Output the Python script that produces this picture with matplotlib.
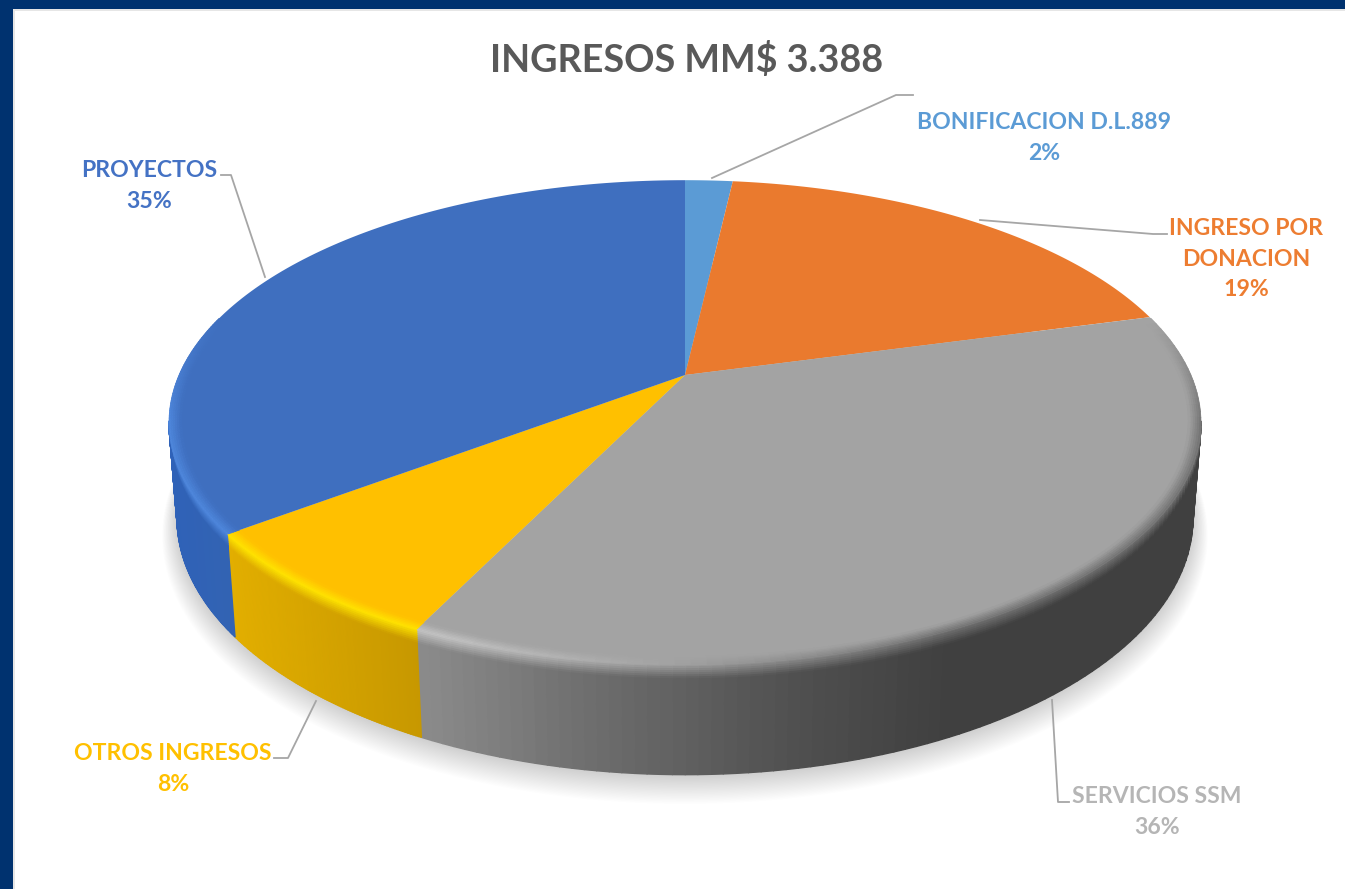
import numpy as np
import matplotlib
matplotlib.use('Agg')
import matplotlib.pyplot as plt
from matplotlib.collections import PolyCollection
from matplotlib.colors import to_rgb

# data, labels show them rounded
categories = ['BONIFICACION D.L.889', 'INGRESO POR\nDONACION', 'SERVICIOS SSM', 'OTROS INGRESOS', 'PROYECTOS']
values = [1.8, 19.0, 36.4, 7.5, 35.3]
title = 'INGRESOS MM$ 3.388'

# styles
top_colors = ['#5b9bd5', '#ea7a2e', '#a3a3a3', '#ffc000', '#3f6fbf']
text_colors = ['#5b9bd5', '#ed7d31', '#b5b5b5', '#ffc000', '#4472c4']
glow_colors = ['#5b9bd5', '#ea7a2e', '#c4c4c4', '#ffe400', '#4f88de']
side_x = [[0, 1345], [0, 1345], [418, 600, 800, 950, 1345], [228, 418], [165, 235]]
side_colors = [['#44749f', '#44749f'], ['#b05a20', '#b05a20'],
               ['#8c8c8c', '#6d6d6d', '#505050', '#404040', '#404040'],
               ['#e2ae00', '#c79800'], ['#2f62b8', '#3363b2']]
label_xy = [(1044, 138), (1246, 259), (1157, 812), (173, 769), (149, 186)]
leader_xy = [[(712, 178), (896, 95), (913, 95)], [(980, 220), (1153, 234), (1167, 234)],
             [(1052, 700), (1058, 802), (1069, 802)], [(316, 701), (288, 758), (274, 758)],
             [(265, 277), (231, 175), (221, 175)]]

# pie geometry in pixels, perspective projection of a circle
cx, cy = 685, 375
a, b, k = 506, 233, 0.196
depth = 93


def project(theta, scale=1.0, dy=0.0):
    u = np.sin(theta) * scale
    v = np.cos(theta) * scale
    d = 1 + k * v
    return np.column_stack([cx + a * u / d, cy + (dy - b * v) / d])


def mix(c1, c2, f):
    return tuple(np.array(to_rgb(c1)) * (1 - f) + np.array(to_rgb(c2)) * f)


fig = plt.figure(figsize=(13.45, 8.89), dpi=100)
ax = fig.add_axes([0, 0, 1, 1])
ax.set_xlim(0, 1345)
ax.set_ylim(889, 0)
ax.axis('off')

# frame
ax.add_patch(plt.Rectangle((0, 0), 1345, 889, color='white', lw=0, zorder=0))
ax.add_patch(plt.Rectangle((13, 9), 1332, 2, color='#e6e6e6', lw=0, zorder=0.1))
ax.add_patch(plt.Rectangle((13, 9), 2, 880, color='#e6e6e6', lw=0, zorder=0.1))
ax.add_patch(plt.Rectangle((0, 0), 1345, 9, color='#00326f', lw=0, zorder=0.2))
ax.add_patch(plt.Rectangle((0, 0), 13, 889, color='#00326f', lw=0, zorder=0.2))

# soft shadow under the pie
all_t = np.linspace(0, 2 * np.pi, 300)
for i in range(24):
    shadow = project(all_t, 0.985 + i * 0.0012, depth + 1 + i * 0.6)
    ax.fill(shadow[:, 0], shadow[:, 1], color='#808080', alpha=0.014, lw=0, zorder=1)

edges = np.cumsum([0] + values) / sum(values) * 2 * np.pi
front_a, front_b = np.radians(101), np.radians(259)
rows = np.concatenate([np.linspace(0, 12, 8), [depth]])


def rim_colors(i, theta):
    xm = project(np.array([theta]))[0, 0]
    side = tuple(np.interp(xm, side_x[i], [to_rgb(c)[n] for c in side_colors[i]]) for n in range(3))
    strength = np.clip((950 - xm) / 500, 0, 1)
    glow = mix(top_colors[i], glow_colors[i], strength)
    glow = mix(glow, side, 0.5 * (1 - strength))
    # rim fades out towards the back of the pie
    fade = min(np.clip((theta - (front_a - 0.45)) / 0.45, 0, 1),
               np.clip(((front_b + 0.45) - theta) / 0.45, 0, 1))
    return side, mix(top_colors[i], glow, fade)


# side walls with the rounded rim
for i in range(len(values)):
    start, stop = max(edges[i], front_a), min(edges[i + 1], front_b)
    if start >= stop:
        continue
    t = np.linspace(start, stop, 90)
    quads, cols = [], []
    for j in range(len(t) - 1):
        side, glow = rim_colors(i, t[j])
        for r in range(len(rows) - 1):
            s0, s1 = 1 - 0.015 * rows[r] / depth, 1 - 0.015 * rows[r + 1] / depth
            p = project(t[j:j + 2], s0, rows[r])
            q = project(t[j:j + 2], s1, rows[r + 1])
            quads.append([p[0], p[1], q[1], q[0]])
            cols.append(mix(glow, side, min((r + 0.5) / (len(rows) - 2), 1)))
    ax.add_collection(PolyCollection(quads, facecolors=cols, edgecolors=cols, linewidths=1.0, zorder=2))

# top faces
for i in range(len(values)):
    t = np.linspace(edges[i], edges[i + 1], 120)
    pts = np.vstack([[(cx, cy)], project(t)])
    ax.fill(pts[:, 0], pts[:, 1], color=top_colors[i], lw=0, zorder=3)

# inner part of the rim, blends the face into the wall
for i in range(len(values)):
    start, stop = max(edges[i], front_a - 0.45), min(edges[i + 1], front_b + 0.45)
    if start >= stop:
        continue
    t = np.linspace(start, stop, 90)
    quads, cols = [], []
    for j in range(len(t) - 1):
        side, glow = rim_colors(i, t[j])
        for r in range(6):
            p = project(t[j:j + 2], 1 - 0.004 * r)
            q = project(t[j:j + 2], 1 - 0.004 * (r + 1))
            quads.append([p[0], p[1], q[1], q[0]])
            cols.append(mix(glow, top_colors[i], (r + 0.5) / 6))
    ax.add_collection(PolyCollection(quads, facecolors=cols, edgecolors=cols, linewidths=0.5, zorder=4))

# leader lines
for line in leader_xy:
    xs, ys = zip(*line)
    ax.plot(xs, ys, color='#a6a6a6', lw=1.3, zorder=5)

# text
plt.rcParams['font.family'] = ['Lato', 'DejaVu Sans']
ax.text(687, 60, title, color='#595959', fontsize=27.2, fontweight='bold', ha='center', va='center')
for i in range(len(values)):
    ax.text(label_xy[i][0], label_xy[i][1], categories[i] + '\n' + str(round(values[i])) + '%',
            color=text_colors[i], fontsize=16.6, fontweight='bold', ha='center', va='center',
            linespacing=1.55, zorder=6)

fig.savefig('out.png', dpi=100)
